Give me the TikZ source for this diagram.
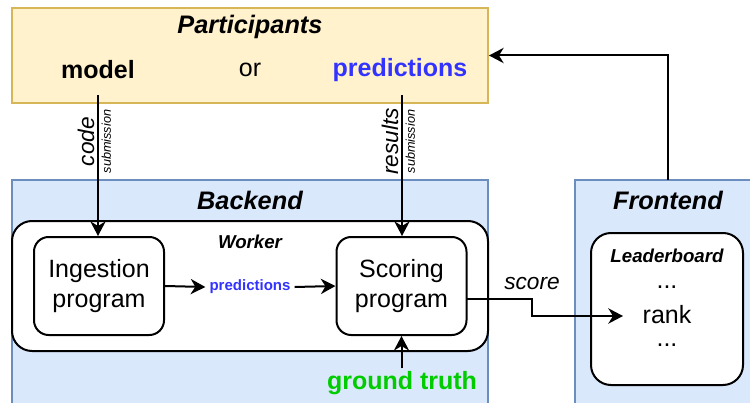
\documentclass[tikz,border=0pt]{standalone}
\usepackage{fontspec}
\setmainfont{Liberation Sans}
\usepackage{xcolor}
\usetikzlibrary{arrows.meta}
\definecolor{partfill}{HTML}{FFF2CC}
\definecolor{partline}{HTML}{D6B656}
\definecolor{endfill}{HTML}{DAE8FC}
\definecolor{endline}{HTML}{6C8EBF}
\definecolor{predblue}{HTML}{3333FF}
\definecolor{truthgreen}{HTML}{00CC00}

\begin{document}
\begin{tikzpicture}[x=0.75pt, y=-0.75pt,
  big/.style={font=\fontsize{18.75pt}{23pt}\selectfont},
  bigbf/.style={font=\fontsize{18.75pt}{23pt}\selectfont\bfseries},
  title/.style={font=\fontsize{19pt}{23pt}\selectfont\bfseries\itshape},
  label/.style={font=\fontsize{14pt}{17pt}\selectfont\bfseries\itshape},
  edgetext/.style={font=\fontsize{17pt}{20pt}\selectfont\itshape, inner sep=2pt},
  tiny/.style={font=\fontsize{9.5pt}{11pt}\selectfont\itshape, inner sep=2pt},
  area/.style={draw=endline, fill=endfill, line width=1.2pt, inner sep=0pt},
  prog/.style={draw=black, fill=white, line width=1.5pt, inner sep=0pt, rounded corners=11pt},
  arr/.style={line width=1.5pt, -{Stealth[length=11pt, width=11.5pt, inset=3.5pt]}}]
\clip (0,0) rectangle (750,403);
\fill[white] (0,0) rectangle (750,403);

% participants
\node[draw=partline, fill=partfill, line width=1.5pt, inner sep=0pt,
  minimum width=357pt, minimum height=71.25pt] (part) at (250,55.5) {};
\node[title] (parttitle) at (250,27) {Participants};
\node[bigbf] (model) at (98,70) {model};
\node[big] (or) at (250,70) {or};
\node[bigbf, text=predblue] (preds) at (400,70) {predictions};

% backend and frontend
\node[area, minimum width=357pt, minimum height=171pt] (back) at (250,294) {};
\node[area, minimum width=133pt, minimum height=171pt] (front) at (663.5,294) {};
\node[title] (backtitle) at (250,200) {Backend};
\node[title] (fronttitle) at (668,200) {Frontend};

% worker
\node[prog, rounded corners=15pt, minimum width=357pt, minimum height=97.5pt] (worker) at (250,286) {};
\node[label] (workerlabel) at (250,242) {Worker};
\node[prog, minimum width=97.5pt, minimum height=73.5pt, big, align=center] (ingest) at (99,286) {Ingestion\\program};
\node[prog, minimum width=97.5pt, minimum height=73.5pt, big, align=center] (scoring) at (401.5,286) {Scoring\\program};
\node[font=\fontsize{11.25pt}{13pt}\selectfont\bfseries, text=predblue, inner sep=3pt] (predmid) at (250,287) {predictions};
\node[bigbf, text=truthgreen, inner sep=2pt] (truth) at (402,383) {ground truth};

% leaderboard
\node[prog, rounded corners=15pt, minimum width=114pt, minimum height=114pt] (board) at (667,309) {};
\node[label] (boardlabel) at (667,256) {Leaderboard};
\node[big, inner sep=0pt] (dotsup) at (667,287) {...};
\node[big, inner sep=0pt] (rank) at (667,315) {rank};
\node[big, inner sep=0pt] (dotsdown) at (667,345) {...};

% connectors
\coordinate (codetop) at (98,95);
\coordinate (resultstop) at (402,95);
\coordinate (scorestart) at (467,299);
\coordinate (scorebend) at (532,299);
\coordinate (scoreend) at (623,316);
\coordinate (fronttop) at (668,180);

\draw[arr] (codetop) -- (codetop |- ingest.north)
  node[pos=0.33, rotate=90, anchor=south, edgetext] {code}
  node[pos=0.33, rotate=90, anchor=north, tiny] {submission};
\draw[arr] (resultstop) -- (resultstop |- scoring.north)
  node[pos=0.33, rotate=90, anchor=south, edgetext] {results}
  node[pos=0.33, rotate=90, anchor=north, tiny] {submission};
\draw[arr] (ingest.east) -- (predmid.west);
\draw[arr] (predmid.east) -- (scoring.west);
\draw[arr] (truth.north -| scoring.south) -- (scoring.south);
\draw[arr] (scorestart) -- (scorebend) |- (scoreend);
\node[edgetext] (scorelabel) at (532,284) {score};
\draw[arr] (fronttop) |- (part.east);
\end{tikzpicture}
\end{document}
